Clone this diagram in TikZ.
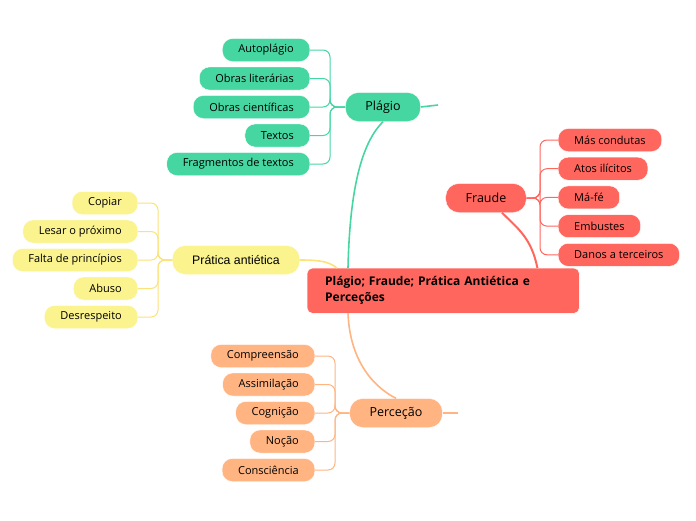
\documentclass[tikz,border=0pt]{standalone}
\usepackage{fontspec}
\setmainfont{Open Sans}
\newfontfamily\arialfont{Liberation Sans}
\usetikzlibrary{positioning}
\definecolor{plgreen}{HTML}{46D6A2}
\definecolor{frred}{HTML}{FF665E}
\definecolor{pryellow}{HTML}{FAF38E}
\definecolor{peorange}{HTML}{FFB482}
\tikzset{
	leaf/.style={rounded corners=10pt, draw=white, minimum height=23pt, inner xsep=16pt, inner ysep=2pt, font=\fontsize{11}{13}\selectfont}, % the small pills
	topic/.style={rounded corners=13pt, draw=white, minimum height=29pt, inner xsep=20pt, font=\fontsize{12.5}{15}\selectfont}, % the four main topics
	link/.style={line width=1pt, rounded corners=7pt}, % brackets to the pills
	branch/.style={line width=1.6pt}, % from the centre to a topic
}

\begin{document}
\begin{tikzpicture}[x=1pt, y=-1pt]
				\useasboundingbox (0,0) rectangle (696,520);
				
				% Centre
				\node[fill=frred, draw=white, rounded corners=5pt, anchor=north west, minimum width=272pt, minimum height=45pt, text width=236pt, inner xsep=18pt, align=left, font=\fontsize{12}{16}\selectfont\bfseries] (centre) at (307,268) {Plágio; Fraude; Prática Antiética e Perceções};
				
				% Topics
				\node[topic, fill=plgreen] (plagio) at (383,107) {Plágio};
				\node[topic, fill=frred] (fraude) at (486,198) {Fraude};
				\node[topic, fill=pryellow, font=\fontsize{12.3}{15}\selectfont\arialfont] (pratica) at (236,260) {Prática antiética};
				\node[topic, fill=peorange] (percecao) at (396,413) {Perceção};
				
				% Pills
				\foreach \txt [count=\i] in {Autoplágio, Obras literárias, Obras científicas, Textos, Fragmentos de textos}
					\node[leaf, fill=plgreen, anchor=east] (pl\i) at (310,{50+28.5*(\i-1)}) {\txt};
				\foreach \txt [count=\i] in {Más condutas, Atos ilícitos, Má-fé, Embustes, Danos a terceiros}
					\node[leaf, fill=frred, anchor=west] (fr\i) at (558,{140+28.7*(\i-1)}) {\txt};
				\foreach \txt [count=\i] in {Copiar, Lesar o próximo, Falta de princípios, Abuso, Desrespeito}
					\node[leaf, fill=pryellow, anchor=east] (pr\i) at (138,{203+28.5*(\i-1)}) {\txt};
				\foreach \txt [count=\i] in {Compreensão, Assimilação, Cognição, Noção, Consciência}
					\node[leaf, fill=peorange, anchor=east] (pe\i) at (315,{356+28.5*(\i-1)}) {\txt};
				
				% Junctions
				\coordinate (plj) at (330,107);
				\coordinate (frj) at (540,198);
				\coordinate (prj) at (158,260);
				\coordinate (pej) at (335,413);
				\coordinate (pltail) at (438,105);
				\coordinate (petail) at (458,413);
				
				% Brackets
				\foreach \i in {1,...,5} {
					\draw[link, plgreen] (pl\i.east) -| (plj) -- (plagio.west);
					\draw[link, frred] (fraude.east) -- (frj) |- (fr\i.west);
					\draw[link, pryellow!85!orange] (pr\i.east) -| (prj) -- (pratica.west);
					\draw[link, peorange] (pe\i.east) -| (pej) -- (percecao.west);
				}
				
				% Branches
				\draw[branch, plgreen] ([xshift=41pt]centre.north west) .. controls +(2,-90) and +(-18,18) .. (plagio.south);
				\draw[branch, plgreen] (plagio.east) -- (pltail);
				\draw[branch, frred, line width=2pt] ([xshift=-42pt]centre.north east) .. controls +(-6,-30) and +(16,16) .. ([xshift=16pt]fraude.south);
				\draw[branch, pryellow!85!orange] (pratica.east) .. controls +(22,0) and +(-8,-6) .. ([xshift=30pt]centre.north west);
				\draw[branch, peorange] ([xshift=41pt]centre.south west) .. controls +(2,50) and +(-20,-10) .. (percecao.north);
				\draw[branch, peorange] (percecao.east) -- (petail);
			\end{tikzpicture}
\end{document}
